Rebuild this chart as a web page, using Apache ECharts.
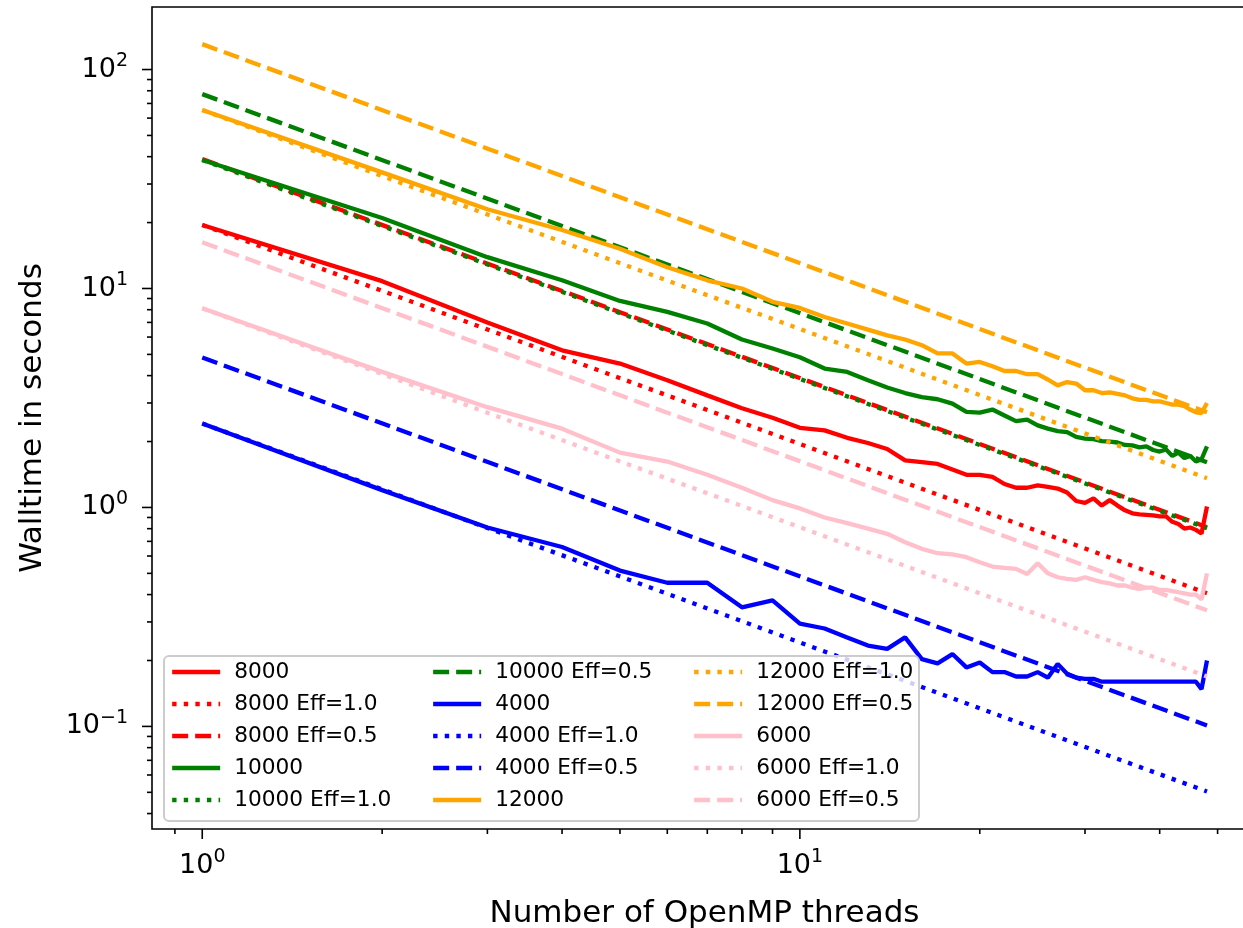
<!DOCTYPE html>
<html>
<head>
<meta charset="utf-8">
<title>Walltime vs OpenMP threads</title>
<script src="https://cdn.jsdelivr.net/npm/echarts@6/dist/echarts.min.js"></script>
<style>
html, body { margin: 0; padding: 0; background: #fff; }
#chart { width: 1243px; height: 928px; }
</style>
</head>
<body>
<div id="chart"></div>
<script>
// measured walltimes (s) per thread count
const threads = [1, 2, 3, 4, 5, 6, 7, 8, 9, 10, 11, 12, 13, 14, 15, 16, 17, 18, 19, 20, 21, 22, 23, 24,
  25, 26, 27, 28, 29, 30, 31, 32, 33, 34, 35, 36, 37, 38, 39, 40, 41, 42, 43, 44, 45, 46, 47, 48];

const t8000 = [19.5, 10.8, 7.0, 5.22, 4.54, 3.81, 3.25, 2.84, 2.57, 2.31, 2.25, 2.08, 1.97, 1.85, 1.64, 1.61,
  1.58, 1.49, 1.41, 1.41, 1.38, 1.28, 1.23, 1.23, 1.26, 1.24, 1.22, 1.17, 1.07, 1.05, 1.10, 1.02,
  1.08, 1.02, 0.97, 0.94, 0.93, 0.925, 0.92, 0.91, 0.91, 0.86, 0.84, 0.80, 0.81, 0.79, 0.76, 1.01];
const t10000 = [38.6, 21.0, 13.9, 10.9, 8.77, 7.82, 6.92, 5.85, 5.32, 4.85, 4.31, 4.16, 3.81, 3.53, 3.33, 3.19,
  3.12, 2.98, 2.73, 2.71, 2.80, 2.63, 2.48, 2.52, 2.37, 2.29, 2.23, 2.21, 2.10, 2.06, 2.05, 2.01,
  2.0, 1.98, 1.93, 1.92, 1.88, 1.90, 1.83, 1.80, 1.84, 1.72, 1.78, 1.68, 1.72, 1.62, 1.66, 1.9];
const t4000 = [2.42, 1.2, 0.81, 0.66, 0.515, 0.453, 0.453, 0.35, 0.376, 0.295, 0.28, 0.255, 0.234, 0.226, 0.255, 0.203,
  0.194, 0.214, 0.186, 0.196, 0.177, 0.177, 0.169, 0.169, 0.177, 0.167, 0.193, 0.174, 0.167, 0.165, 0.165, 0.16,
  0.16, 0.16, 0.16, 0.16, 0.16, 0.16, 0.16, 0.16, 0.16, 0.16, 0.16, 0.16, 0.16, 0.16, 0.148, 0.2];
const t12000 = [65.3, 33.9, 23.0, 18.5, 15.2, 12.5, 10.9, 10.0, 8.69, 8.15, 7.41, 6.92, 6.49, 6.11, 5.85, 5.51,
  5.05, 5.05, 4.54, 4.62, 4.41, 4.20, 4.20, 4.06, 4.06, 3.84, 3.61, 3.74, 3.68, 3.43, 3.43, 3.33,
  3.35, 3.3, 3.25, 3.15, 3.1, 3.1, 3.05, 3.05, 3.0, 2.95, 2.95, 2.9, 2.8, 2.72, 2.7, 3.0];
const t6000 = [8.13, 4.16, 2.87, 2.29, 1.78, 1.62, 1.41, 1.23, 1.08, 0.99, 0.90, 0.848, 0.80, 0.758, 0.694, 0.647,
  0.618, 0.61, 0.593, 0.562, 0.537, 0.53, 0.524, 0.497, 0.556, 0.50, 0.48, 0.472, 0.467, 0.48, 0.467, 0.456,
  0.45, 0.44, 0.44, 0.43, 0.425, 0.43, 0.43, 0.42, 0.42, 0.415, 0.41, 0.405, 0.40, 0.40, 0.38, 0.5];

// ideal-scaling reference lines, end points at 1 and 48 threads
const effThreads = [1, 48];
const e8000_10 = [19.5, 0.406];
const e8000_05 = [39.0, 0.8125];
const e10000_10 = [38.6, 0.804];
const e10000_05 = [77.2, 1.608];
const e4000_10 = [2.42, 0.0504];
const e4000_05 = [4.84, 0.101];
const e12000_10 = [65.3, 1.36];
const e12000_05 = [130.6, 2.72];
const e6000_10 = [8.13, 0.169];
const e6000_05 = [16.26, 0.339];

// tick positions
const xMajorTicks = [1, 10];
const xMinorTicks = [0.9, 2, 3, 4, 5, 6, 7, 8, 9, 20, 30, 40, 50];
const yMajorTicks = [0.1, 1, 10, 100];
const yMinorTicks = [0.04, 0.05, 0.06, 0.07, 0.08, 0.09, 0.2, 0.3, 0.4, 0.5, 0.6, 0.7, 0.8, 0.9,
  2, 3, 4, 5, 6, 7, 8, 9, 20, 30, 40, 50, 60, 70, 80, 90];

const X_MIN = 0.824, X_MAX = 58.2, Y_MIN = 0.034, Y_MAX = 193;
const FONT = 'DejaVu Sans';
const DOT = [4.4, 7.2];
const DASH = [16, 7];

const chart = echarts.init(document.getElementById('chart'));

function pairs(xs, ys) {
  return xs.map((x, i) => [x, ys[i]]);
}

function lineSeries(name, xs, ys, color, type) {
  return {
    name: name,
    type: 'line',
    data: pairs(xs, ys),
    symbol: 'none',
    showSymbol: false,
    silent: true,
    lineStyle: { color: color, width: 4.3, type: type, cap: 'butt' },
    itemStyle: { color: color }
  };
}

function tickSeries(values, axis, len) {
  return {
    type: 'custom',
    silent: true,
    clip: false,
    z: 5,
    data: values.map(v => axis === 'x' ? [v, Y_MIN] : [X_MIN, v]),
    renderItem: function (params, api) {
      const p = api.coord([api.value(0), api.value(1)]);
      const q = axis === 'x' ? [p[0], p[1] + len] : [p[0] - len, p[1]];
      return {
        type: 'line',
        shape: { x1: p[0], y1: p[1], x2: q[0], y2: q[1] },
        style: { stroke: '#000', lineWidth: 1.6 }
      };
    }
  };
}

function powLabel(v) {
  const l = Math.log10(v);
  const e = Math.round(l);
  if (Math.abs(l - e) > 1e-6) return '';
  return '{b|10}{s|' + (e < 0 ? '\u2212' + (-e) : e) + '}';
}

const labelRich = {
  b: { fontSize: 27, lineHeight: 36, fontFamily: FONT, color: '#000' },
  s: { fontSize: 19, lineHeight: 20, verticalAlign: 'top', fontFamily: FONT, color: '#000' }
};

const legendCols = [
  ['8000', '8000 Eff=1.0', '8000 Eff=0.5', '10000', '10000 Eff=1.0'],
  ['10000 Eff=0.5', '4000', '4000 Eff=1.0', '4000 Eff=0.5', '12000'],
  ['12000 Eff=1.0', '12000 Eff=0.5', '6000', '6000 Eff=1.0', '6000 Eff=0.5']
];
const legendLeft = [170, 431, 692];

chart.setOption({
  animation: false,
  textStyle: { fontFamily: FONT },
  grid: {
    left: 152, top: 7, width: 1105, height: 822,
    outerBoundsMode: 'none',
    containLabel: false,
    show: true, borderColor: '#000', borderWidth: 1.6, backgroundColor: 'transparent'
  },
  xAxis: {
    type: 'log',
    min: X_MIN,
    max: X_MAX,
    name: 'Number of OpenMP threads',
    nameLocation: 'middle',
    nameGap: 69,
    nameTextStyle: { fontSize: 31, fontFamily: FONT, color: '#000' },
    axisLine: { show: false },
    axisTick: { show: false },
    splitLine: { show: false },
    axisLabel: { margin: 19, formatter: powLabel, rich: labelRich, showMinLabel: false, showMaxLabel: false }
  },
  yAxis: {
    type: 'log',
    min: Y_MIN,
    max: Y_MAX,
    name: 'Walltime in seconds',
    nameLocation: 'middle',
    nameGap: 104,
    nameTextStyle: { fontSize: 31, fontFamily: FONT, color: '#000' },
    axisLine: { show: false },
    axisTick: { show: false },
    splitLine: { show: false },
    axisLabel: { margin: 24, formatter: powLabel, rich: labelRich, showMinLabel: false, showMaxLabel: false }
  },
  legend: legendCols.map((names, i) => ({
    data: names,
    orient: 'vertical',
    left: legendLeft[i],
    top: 660,
    padding: 0,
    itemWidth: 48,
    itemHeight: 14,
    itemGap: 8,
    selectedMode: false,
    z: 10,
    itemStyle: { opacity: 0 },
    lineStyle: { width: 4.3 },
    textStyle: { fontSize: 21.7, lineHeight: 24, fontFamily: FONT, color: '#000', padding: [0, 0, 0, 9] }
  })),
  graphic: [{
    type: 'rect',
    left: 163,
    top: 655,
    z: 8,
    shape: { width: 755, height: 165, r: 5 },
    style: { fill: 'rgba(255,255,255,0.8)', stroke: '#cccccc', lineWidth: 2 }
  }],
  series: [
    lineSeries('8000', threads, t8000, 'red', 'solid'),
    lineSeries('8000 Eff=1.0', effThreads, e8000_10, 'red', DOT),
    lineSeries('8000 Eff=0.5', effThreads, e8000_05, 'red', DASH),
    lineSeries('10000', threads, t10000, 'green', 'solid'),
    lineSeries('10000 Eff=1.0', effThreads, e10000_10, 'green', DOT),
    lineSeries('10000 Eff=0.5', effThreads, e10000_05, 'green', DASH),
    lineSeries('4000', threads, t4000, 'blue', 'solid'),
    lineSeries('4000 Eff=1.0', effThreads, e4000_10, 'blue', DOT),
    lineSeries('4000 Eff=0.5', effThreads, e4000_05, 'blue', DASH),
    lineSeries('12000', threads, t12000, 'orange', 'solid'),
    lineSeries('12000 Eff=1.0', effThreads, e12000_10, 'orange', DOT),
    lineSeries('12000 Eff=0.5', effThreads, e12000_05, 'orange', DASH),
    lineSeries('6000', threads, t6000, 'pink', 'solid'),
    lineSeries('6000 Eff=1.0', effThreads, e6000_10, 'pink', DOT),
    lineSeries('6000 Eff=0.5', effThreads, e6000_05, 'pink', DASH),
    tickSeries(xMajorTicks, 'x', 10),
    tickSeries(xMinorTicks, 'x', 5),
    tickSeries(yMajorTicks, 'y', 10),
    tickSeries(yMinorTicks, 'y', 5)
  ]
});
</script>
</body>
</html>
